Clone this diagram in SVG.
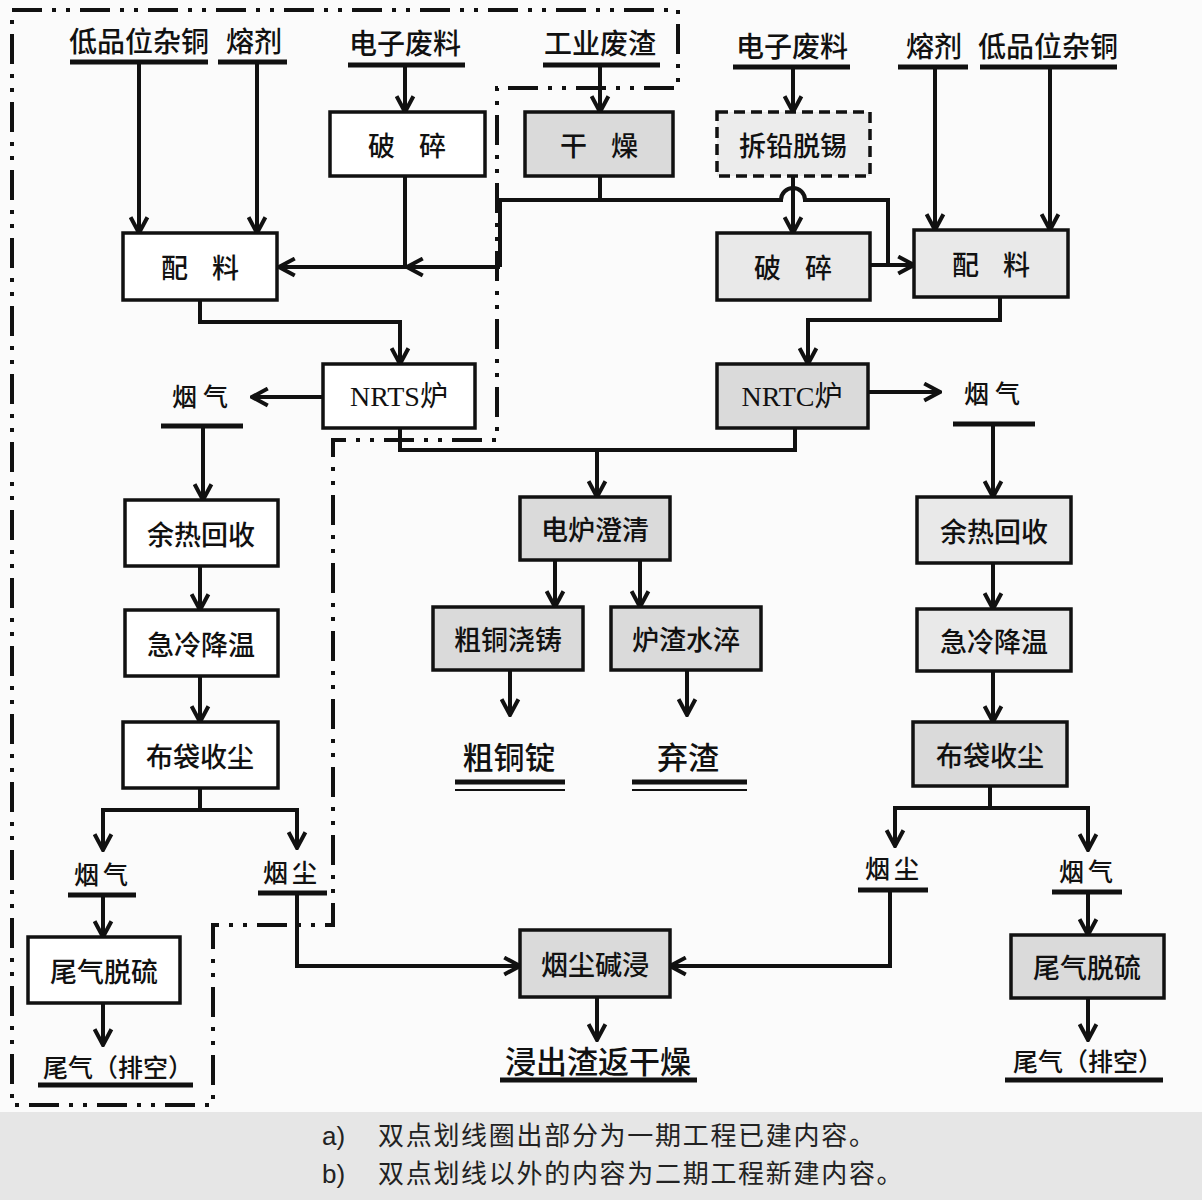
<svg xmlns="http://www.w3.org/2000/svg" width="1202" height="1200" viewBox="0 0 1202 1200">
<defs>
<style>
.t{font-family:"Noto Sans CJK SC",sans-serif;font-size:27px;fill:#111;text-anchor:middle;dominant-baseline:central;font-weight:500}
.tl{font-family:"Noto Sans CJK SC",sans-serif;font-size:28px;fill:#111;text-anchor:middle;dominant-baseline:central;font-weight:500}
.ts{font-family:"Noto Sans CJK SC",sans-serif;font-size:25px;fill:#111;text-anchor:middle;dominant-baseline:central;font-weight:500}
.tb{font-family:"Noto Sans CJK SC",sans-serif;font-size:31px;fill:#111;text-anchor:middle;dominant-baseline:central;font-weight:500}
.nr{font-family:"Liberation Serif","Noto Sans CJK SC",serif;font-size:28px;fill:#111;text-anchor:middle;dominant-baseline:central}
.lg{font-family:"Liberation Sans","Noto Sans CJK SC",sans-serif;font-size:26px;fill:#222}
.b1{fill:#fff;stroke:#111;stroke-width:3.5}
.b2{fill:#dadada;stroke:#111;stroke-width:3.5}
.b3{fill:#e9e9e9;stroke:#111;stroke-width:3.5}
.bd{fill:#ececec;stroke:#111;stroke-width:3.5;stroke-dasharray:11 6}
.u{stroke:#111;stroke-width:5;fill:none}
.u2{stroke:#111;stroke-width:2;fill:none}
.c{stroke:#111;stroke-width:4;fill:none}
.ca{stroke:#111;stroke-width:4;fill:none;marker-end:url(#a)}
.bnd{stroke:#111;stroke-width:4;fill:none;stroke-dasharray:30 10 4 10 4 10}
.sp{word-spacing:18px}
</style>
<marker id="a" viewBox="0 0 20 20" refX="18" refY="10" markerWidth="21" markerHeight="21" markerUnits="userSpaceOnUse" orient="auto">
<path d="M3,2 L18,10 L3,18" fill="none" stroke="#111" stroke-width="3.8"/>
</marker>
</defs>
<rect width="1202" height="1200" fill="#fbfbfb"/>
<rect x="0" y="1112" width="1202" height="88" fill="#e6e6e6"/>

<g id="phase1-boundary">
<path class="bnd" d="M12,10 H678 V88 H497 V440 H333 V925 H213 V1105 H12 Z"/>
</g>

<g id="connectors">
<path class="ca" d="M139,62 V233"/>
<path class="ca" d="M257,62 V233"/>
<path class="ca" d="M405,65 V112"/>
<path class="c" d="M405,176 V267"/>
<path class="ca" d="M600,65 V112"/>
<path class="c" d="M600,176 V200"/>
<path class="c" d="M500,267 V200 H781 A12,12 0 0 1 805,200 H888 V265"/>
<path class="ca" d="M500,267 H407"/>
<path class="ca" d="M407,267 H279"/>
<path class="ca" d="M793,65 V112"/>
<path class="ca" d="M793,176 V233"/>
<path class="ca" d="M870,265 H914"/>
<path class="ca" d="M935,67 V230"/>
<path class="ca" d="M1050,67 V230"/>
<path class="ca" d="M200,300 V322 H400 V364"/>
<path class="ca" d="M1000,297 V320 H808 V364"/>
<path class="ca" d="M323,397 H252"/>
<path class="ca" d="M868,392 H940"/>
<path class="c" d="M400,428 V450 H795 V428"/>
<path class="ca" d="M597,450 V497"/>
<path class="ca" d="M555,560 V607"/>
<path class="ca" d="M640,560 V607"/>
<path class="ca" d="M510,670 V715"/>
<path class="ca" d="M687,670 V715"/>
<path class="ca" d="M203,426 V500"/>
<path class="ca" d="M200,566 V610"/>
<path class="ca" d="M200,676 V722"/>
<path class="c" d="M200,788 V810"/>
<path class="ca" d="M200,810 H103 V850"/>
<path class="ca" d="M200,810 H297 V848"/>
<path class="ca" d="M103,895 V937"/>
<path class="ca" d="M103,1003 V1045"/>
<path class="ca" d="M297,893 V966 H520"/>
<path class="ca" d="M993,424 V497"/>
<path class="ca" d="M993,563 V609"/>
<path class="ca" d="M993,671 V722"/>
<path class="c" d="M990,786 V808"/>
<path class="ca" d="M990,808 H895 V846"/>
<path class="ca" d="M990,808 H1088 V850"/>
<path class="ca" d="M890,890 V966 H670"/>
<path class="ca" d="M1088,892 V935"/>
<path class="ca" d="M1088,998 V1040"/>
<path class="ca" d="M597,997 V1040"/>
</g>

<g id="in-copper-l"><text class="tl" x="139" y="40">低品位杂铜</text><path class="u" d="M70,62 H208"/></g>
<g id="in-flux-l"><text class="tl" x="254" y="40">熔剂</text><path class="u" d="M218,62 H287"/></g>
<g id="in-ewaste-l"><text class="tl" x="405" y="42">电子废料</text><path class="u" d="M348,65 H465"/></g>
<g id="in-slag"><text class="tl" x="600" y="42">工业废渣</text><path class="u" d="M543,65 H660"/></g>
<g id="in-ewaste-r"><text class="tl" x="792" y="45">电子废料</text><path class="u" d="M733,67 H850"/></g>
<g id="in-flux-r"><text class="tl" x="934" y="45">熔剂</text><path class="u" d="M898,67 H968"/></g>
<g id="in-copper-r"><text class="tl" x="1048" y="45">低品位杂铜</text><path class="u" d="M980,67 H1117"/></g>

<g id="crush-l"><rect class="b1" x="330" y="112" width="155" height="64"/><text class="t sp" x="407" y="144">破 碎</text></g>
<g id="dry"><rect class="b2" x="525" y="112" width="148" height="64"/><text class="t sp" x="599" y="144">干 燥</text></g>
<g id="deleadtin"><rect class="bd" x="717" y="112" width="153" height="64"/><text class="t" x="793" y="144">拆铅脱锡</text></g>
<g id="mix-l"><rect class="b1" x="123" y="233" width="154" height="67"/><text class="t sp" x="200" y="266">配 料</text></g>
<g id="crush-r"><rect class="b3" x="717" y="233" width="153" height="67"/><text class="t sp" x="793" y="266">破 碎</text></g>
<g id="mix-r"><rect class="b3" x="914" y="230" width="154" height="67"/><text class="t sp" x="991" y="263">配 料</text></g>
<g id="nrts"><rect class="b1" x="323" y="364" width="152" height="64"/><text class="nr" x="399" y="396">NRTS炉</text></g>
<g id="nrtc"><rect class="b2" x="717" y="364" width="151" height="64"/><text class="nr" x="792" y="396">NRTC炉</text></g>

<g id="gas-l"><text class="ts" x="203" y="395" letter-spacing="6">烟气</text><path class="u" d="M161,426 H243"/></g>
<g id="gas-r"><text class="ts" x="995" y="392" letter-spacing="6">烟气</text><path class="u" d="M953,424 H1035"/></g>

<g id="heat-l"><rect class="b1" x="125" y="500" width="153" height="66"/><text class="t" x="201" y="533">余热回收</text></g>
<g id="quench-l"><rect class="b1" x="125" y="610" width="153" height="66"/><text class="t" x="201" y="643">急冷降温</text></g>
<g id="bag-l"><rect class="b1" x="123" y="722" width="155" height="66"/><text class="t" x="200" y="755">布袋收尘</text></g>

<g id="efurnace"><rect class="b2" x="520" y="497" width="150" height="63"/><text class="t" x="595" y="528">电炉澄清</text></g>
<g id="casting"><rect class="b2" x="433" y="607" width="150" height="63"/><text class="t" x="508" y="638">粗铜浇铸</text></g>
<g id="granulate"><rect class="b2" x="611" y="607" width="150" height="63"/><text class="t" x="686" y="638">炉渣水淬</text></g>
<g id="ingot"><text class="tb" x="509" y="755">粗铜锭</text><path class="u" d="M455,782 H565"/><path class="u2" d="M455,790 H565"/></g>
<g id="waste-slag"><text class="tb" x="688" y="755">弃渣</text><path class="u" d="M632,782 H747"/><path class="u2" d="M632,790 H747"/></g>

<g id="heat-r"><rect class="b3" x="917" y="497" width="154" height="66"/><text class="t" x="994" y="530">余热回收</text></g>
<g id="quench-r"><rect class="b3" x="917" y="609" width="154" height="62"/><text class="t" x="994" y="640">急冷降温</text></g>
<g id="bag-r"><rect class="b2" x="913" y="722" width="154" height="64"/><text class="t" x="990" y="754">布袋收尘</text></g>

<g id="gas-l2"><text class="ts" x="103" y="873" letter-spacing="4">烟气</text><path class="u" d="M68,895 H136"/></g>
<g id="dust-l"><text class="ts" x="292" y="871" letter-spacing="4">烟尘</text><path class="u" d="M258,893 H327"/></g>
<g id="dust-r"><text class="ts" x="894" y="867" letter-spacing="4">烟尘</text><path class="u" d="M858,890 H928"/></g>
<g id="gas-r2"><text class="ts" x="1088" y="870" letter-spacing="4">烟气</text><path class="u" d="M1052,892 H1122"/></g>

<g id="desulf-l"><rect class="b1" x="28" y="937" width="152" height="66"/><text class="t" x="104" y="970">尾气脱硫</text></g>
<g id="exhaust-l"><text class="ts" x="118" y="1066">尾气（排空）</text><path class="u" d="M38,1085 H193"/></g>
<g id="leach"><rect class="b2" x="520" y="930" width="150" height="67"/><text class="t" x="595" y="963">烟尘碱浸</text></g>
<g id="residue"><text class="tb" x="598" y="1059">浸出渣返干燥</text><path class="u" d="M500,1080 H697"/></g>
<g id="desulf-r"><rect class="b2" x="1011" y="935" width="153" height="63"/><text class="t" x="1087" y="966">尾气脱硫</text></g>
<g id="exhaust-r"><text class="ts" x="1088" y="1060">尾气（排空）</text><path class="u" d="M1005,1080 H1163"/></g>

<g id="legend">
<text class="lg" x="322" y="1145">a)</text>
<text class="lg" x="378" y="1145" letter-spacing="1.7">双点划线圈出部分为一期工程已建内容。</text>
<text class="lg" x="322" y="1183">b)</text>
<text class="lg" x="378" y="1183" letter-spacing="1.7">双点划线以外的内容为二期工程新建内容。</text>
</g>
</svg>
